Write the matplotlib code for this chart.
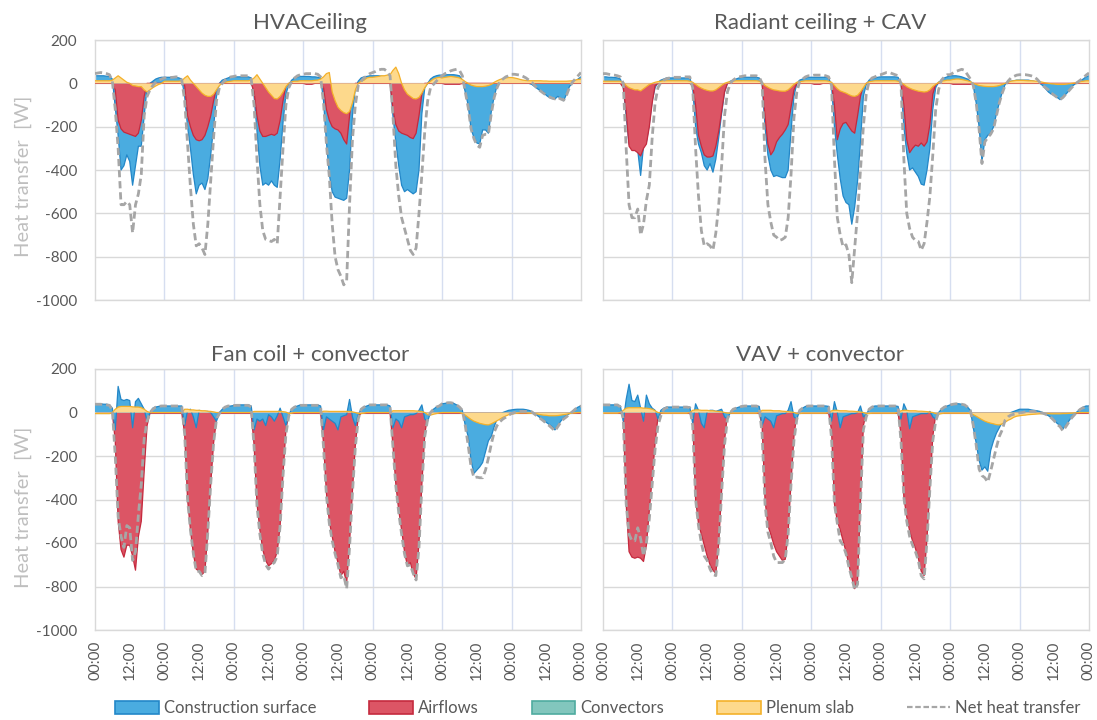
import numpy as np
import matplotlib
matplotlib.use("Agg")
import matplotlib.pyplot as plt
from matplotlib.patches import Patch
from matplotlib.lines import Line2D

plt.rcParams["font.family"] = ["Lato", "DejaVu Sans"]
plt.rcParams["axes.unicode_minus"] = False

HOURS = np.arange(169)
TICK_HOURS = np.arange(0, 169, 12)
TICK_LABELS = ["00:00", "12:00"] * 7 + ["00:00"]

# ---- HVACeiling ------------------------------------------------------------
HV_SURF = [
    35, 35, 35, 35, 33, 32, 20, -110, -240, -400, -380, -330, -360, -470, -380, -290, -290, -150, -20, 0, 10, 20, 25, 28,
    28, 28, 28, 28, 28, 25, 20, -60, -200, -300, -420, -510, -470, -460, -490, -440, -330, -200, -60, 0, 15, 20, 25, 30,
    30, 30, 30, 30, 30, 30, 25, -60, -220, -380, -470, -460, -470, -450, -470, -480, -350, -180, -50, -5, 15, 25, 30, 32,
    32, 32, 32, 30, 30, 28, 25, -80, -270, -420, -500, -525, -530, -535, -540, -530, -400, -150, -20, 10, 25, 30, 32, 35,
    35, 35, 35, 33, 32, 30, 20, -150, -270, -380, -470, -500, -490, -500, -510, -500, -400, -140, -20, 0, 20, 30, 35, 38,
    38, 40, 40, 40, 40, 38, 35, 15, -40, -100, -210, -250, -275, -280, -215, -215, -230, -130, -60, -10, 0, 8, 12, 15,
    20, 20, 18, 15, 10, 5, 0, -5, -15, -25, -35, -40, -55, -65, -70, -72, -60, -70, -80, -50, -15, 0, 10, 20,
    30]
HV_AIR = [
    0, 0, 0, 0, 0, 0, 0, -30, -170, -210, -225, -230, -235, -240, -245, -230, -170, -60, 0, 0, 0, 0, 0, 0,
    0, 0, 0, 0, 0, 0, 0, -10, -150, -200, -240, -260, -265, -260, -240, -200, -150, -80, -20, 0, 0, 0, 0, 0,
    0, 0, 0, 0, 0, 0, 0, -40, -150, -220, -245, -245, -240, -235, -240, -230, -170, -80, -10, 0, 0, 0, 0, 0,
    0, -4, -4, -4, 0, 0, 0, -20, -120, -170, -200, -210, -215, -230, -260, -280, -150, -40, 0, 0, 0, 0, 0, 0,
    0, 0, 0, 0, 0, 0, 0, -120, -190, -220, -230, -235, -240, -250, -255, -230, -150, -50, 0, 0, 0, 0, 0, 0,
    0, -4, -4, -4, -4, -4, -4, 0, 0, 0, 0, 0, 0, 0, 0, 0, 0, 0, 0, 0, 0, 0, 0, 0,
    0, 0, 0, 0, 0, 0, 0, 0, 0, 0, 0, 0, 0, 0, 0, 0, 0, 0, 0, 0, 0, 0, 0, 0,
    0]
HV_PLEN = [
    12, 12, 12, 12, 12, 12, 15, 25, 35, 25, 15, 5, 0, -10, -12, -15, -15, -30, -40, -30, -20, -12, -5, 0,
    10, 10, 10, 10, 10, 10, 12, 25, 35, 15, 0, -15, -30, -45, -55, -60, -60, -50, -30, -10, 0, 5, 8, 10,
    12, 12, 12, 12, 12, 12, 15, 25, 40, 20, 0, -20, -40, -55, -70, -72, -60, -40, -15, 0, 8, 10, 10, 12,
    12, 12, 12, 12, 14, 15, 20, 30, 45, 50, -40, -80, -110, -125, -135, -140, -130, -90, -30, 0, 10, 15, 25, 28,
    28, 30, 32, 35, 35, 38, 40, 60, 75, 45, 0, -30, -50, -60, -70, -72, -65, -45, -20, 0, 10, 20, 25, 28,
    25, 28, 30, 32, 30, 28, 25, 18, 8, 0, -8, -12, -15, -15, -15, -13, -10, -5, 5, 12, 18, 22, 25, 27,
    27, 25, 22, 18, 15, 13, 12, 12, 12, 12, 12, 11, 11, 10, 10, 10, 10, 10, 10, 10, 11, 12, 15, 18,
    20]
HV_NET = [
    45, 48, 50, 48, 45, 40, 10, -120, -300, -560, -560, -545, -560, -690, -560, -510, -420, -150, -60, -30, -10, 5, 15, 20,
    25, 25, 27, 28, 30, 30, 15, -80, -280, -480, -650, -750, -740, -760, -790, -650, -450, -250, -80, -20, 0, 15, 25, 30,
    32, 35, 35, 35, 35, 35, 20, -100, -350, -560, -680, -720, -725, -730, -720, -740, -520, -300, -100, -20, 10, 25, 35, 40,
    42, 45, 45, 45, 45, 42, 30, -90, -280, -430, -650, -800, -860, -890, -930, -910, -560, -260, -100, -10, 10, 25, 35, 45,
    50, 55, 62, 65, 65, 55, 35, -150, -380, -520, -620, -670, -720, -770, -790, -760, -600, -420, -220, -80, -20, -5, 10, 25,
    35, 45, 50, 58, 62, 65, 60, 35, -40, -110, -210, -255, -285, -295, -240, -235, -235, -140, -65, -20, 10, 20, 30, 35,
    42, 42, 40, 38, 32, 25, 15, 5, -10, -25, -35, -45, -55, -62, -68, -72, -65, -72, -78, -55, -20, 5, 20, 35,
    50]

# ---- Radiant ceiling + CAV -------------------------------------------------
RC_SURF = [
    30, 30, 28, 28, 27, 25, 20, -20, -150, -280, -300, -300, -310, -425, -290, -270, -190, -80, -20, 5, 15, 20, 25, 25,
    25, 25, 25, 25, 25, 25, 25, -20, -200, -280, -320, -380, -400, -370, -410, -350, -250, -140, -40, 0, 10, 15, 20, 25,
    28, 28, 28, 28, 28, 28, 25, 0, -200, -330, -400, -430, -425, -430, -435, -435, -400, -220, -60, 0, 15, 20, 25, 28,
    28, 28, 28, 28, 28, 28, 25, -10, -200, -330, -440, -520, -550, -560, -650, -570, -450, -270, -60, -5, 15, 22, 25, 28,
    30, 30, 30, 30, 30, 30, 28, 0, -200, -320, -400, -390, -410, -430, -465, -470, -400, -300, -120, -20, 5, 15, 25, 30,
    35, 35, 35, 33, 30, 25, 20, 10, -10, -90, -200, -360, -260, -240, -230, -200, -140, -90, -40, -5, 5, 10, 12, 15,
    15, 15, 15, 15, 12, 10, 5, 0, -10, -25, -40, -50, -55, -65, -75, -65, -50, -35, -15, -5, 5, 12, 20, 30,
    35]
RC_AIR = [
    0, 0, 0, 0, 0, 0, 0, -20, -130, -290, -310, -310, -320, -335, -300, -280, -200, -90, -10, 0, 0, 0, 0, 0,
    0, 0, 0, 0, 0, 0, 0, -10, -100, -240, -290, -330, -340, -340, -335, -290, -220, -130, -40, 0, 0, 0, 0, 0,
    0, 0, 0, 0, 0, 0, 0, 0, -150, -280, -330, -310, -270, -250, -235, -215, -190, -110, -30, 0, 0, 0, 0, 0,
    0, -4, -4, -4, 0, 0, 0, 0, -100, -260, -210, -185, -180, -200, -220, -230, -150, -60, -10, 0, 0, 0, 0, 0,
    0, 0, 0, 0, 0, 0, 0, 0, -100, -260, -320, -300, -285, -290, -275, -290, -270, -190, -50, -5, 0, 0, 0, 0,
    0, -4, -4, -4, -4, -4, -4, -4, 0, 0, 0, 0, 0, 0, 0, 0, 0, 0, 0, 0, 0, 0, 0, 0,
    0, 0, 0, 0, 0, 0, 0, 0, 0, 0, 0, 0, 0, 0, 0, 0, 0, 0, 0, 0, 0, 0, 0, 0,
    0]
RC_PLEN = [
    10, 10, 10, 10, 10, 10, 10, 5, -10, -20, -25, -30, -30, -35, -25, -15, -5, 0, 5, 8, 10, 12, 12, 12,
    12, 12, 12, 12, 12, 12, 10, 5, -5, -15, -22, -28, -32, -35, -35, -30, -20, -10, 0, 5, 8, 10, 12, 12,
    12, 12, 12, 12, 12, 12, 10, 5, -10, -18, -25, -30, -32, -35, -36, -36, -30, -18, -5, 5, 8, 10, 12, 12,
    12, 12, 12, 12, 12, 12, 10, 5, -10, -25, -35, -40, -45, -52, -58, -60, -55, -40, -20, 0, 8, 10, 12, 12,
    12, 12, 12, 12, 12, 12, 10, 5, -5, -15, -22, -28, -32, -36, -38, -40, -38, -30, -15, -5, 5, 10, 12, 15,
    15, 18, 20, 20, 18, 15, 12, 8, 0, -5, -10, -12, -14, -15, -15, -15, -13, -10, -5, 0, 5, 10, 12, 14,
    14, 14, 13, 12, 12, 11, 10, 8, 5, 2, 0, -2, -3, -5, -5, -5, -4, -2, 0, 2, 5, 8, 10, 12,
    12]
RC_NET = [
    45, 45, 42, 40, 38, 35, 30, 0, -300, -560, -620, -620, -580, -700, -650, -540, -470, -250, -90, -20, 5, 15, 22, 25,
    28, 28, 28, 28, 30, 30, 30, -20, -300, -520, -680, -750, -740, -750, -770, -690, -560, -380, -150, -40, 0, 15, 25, 30,
    32, 35, 35, 35, 35, 35, 30, 0, -350, -560, -640, -700, -710, -725, -720, -710, -620, -420, -160, -40, 10, 20, 30, 35,
    35, 38, 38, 38, 38, 35, 30, -10, -350, -620, -700, -755, -745, -790, -920, -760, -600, -400, -200, -50, 10, 25, 30, 38,
    40, 45, 50, 50, 45, 40, 35, 0, -350, -600, -670, -710, -725, -730, -770, -740, -640, -520, -330, -120, -30, 15, 30, 40,
    40, 48, 55, 60, 65, 60, 40, 20, -10, -90, -210, -370, -270, -250, -235, -210, -150, -90, -45, -10, 10, 25, 32, 38,
    40, 40, 40, 38, 35, 30, 20, 5, -10, -20, -30, -45, -55, -65, -75, -65, -50, -35, -20, -5, 5, 15, 25, 38,
    48]

# ---- Fan coil + convector --------------------------------------------------
FC_SURF = [
    40, 40, 40, 38, 38, 35, 20, -80, 120, 60, 55, 60, 55, -70, 50, 65, 40, 15, -40, 0, 20, 25, 28, 30,
    30, 30, 30, 30, 30, 30, 30, -60, 10, 15, -20, -70, 10, 5, 5, 5, 0, -20, -40, 0, 15, 25, 28, 30,
    32, 35, 35, 35, 35, 35, 30, -80, -30, -40, -30, -60, -10, -20, -40, -15, 20, -20, -60, -10, 15, 25, 30, 35,
    35, 35, 35, 35, 35, 35, 30, -80, -20, -30, -40, -50, -80, -20, -15, -10, 60, -20, -60, -10, 15, 25, 30, 35,
    35, 35, 35, 35, 35, 35, 30, -70, -30, -40, -70, -20, -15, -10, -10, -5, 10, 35, -30, -40, 0, 15, 25, 30,
    40, 42, 45, 45, 42, 35, 25, 10, -60, -110, -220, -280, -265, -250, -230, -180, -130, -110, -65, -30, -10, 0, 5, 10,
    12, 14, 15, 15, 15, 13, 10, 5, -5, -15, -25, -35, -45, -55, -65, -80, -60, -40, -25, -15, -5, 5, 15, 25,
    30]
FC_AIR = [
    -3, -3, -3, -3, -3, -3, -3, -130, -500, -630, -665, -610, -610, -660, -725, -570, -500, -270, -60, -3, -3, -3, -3, -3,
    -3, -3, -3, -3, -3, -3, -3, -100, -400, -540, -650, -720, -730, -745, -730, -550, -330, -140, -30, -3, -3, -3, -3, -3,
    -3, -3, -3, -3, -3, -3, -3, -150, -420, -540, -630, -680, -705, -695, -680, -640, -520, -280, -80, -5, -3, -3, -3, -3,
    -3, -3, -3, -3, -3, -3, -3, -140, -370, -500, -570, -640, -690, -750, -730, -785, -600, -360, -150, -20, -3, -3, -3, -3,
    -3, -3, -3, -3, -3, -3, -3, -150, -330, -450, -540, -640, -705, -690, -740, -765, -600, -330, -100, -15, -3, -3, -3, -3,
    -3, -3, -3, -3, -3, -3, -3, -3, -3, -3, -3, -3, -3, -3, -3, -3, -3, -3, -3, -3, -3, -3, -3, -3,
    -3, -3, -3, -3, -3, -3, -3, -3, -3, -3, -3, -3, -3, -3, -3, -3, -3, -3, -3, -3, -3, -3, -3, -3,
    -3]
FC_PLEN = [
    -5, -5, -5, -5, -5, -5, 0, 15, 25, 28, 28, 28, 28, 26, 25, 25, 22, 15, 5, 0, 0, 0, 0, 0,
    0, 0, 0, 0, 0, 0, 0, 15, 15, 12, 12, 10, 10, 8, 8, 6, 5, 3, 0, 0, 0, 0, 0, 0,
    0, 0, 0, 0, 0, 0, 0, 5, 5, 5, 5, 5, 5, 5, 5, 5, 5, 4, 2, -5, -3, 0, 0, 0,
    0, 0, 0, 0, 0, 0, 0, 6, 6, 5, 5, 5, 5, 5, 5, 5, 4, 3, 0, -5, -5, -3, 0, 0,
    0, 0, 0, 0, 0, 0, 0, 8, 8, 8, 8, 8, 8, 8, 8, 7, 6, 4, 0, -10, -12, -8, -5, -2,
    0, 0, 0, 0, 0, 0, 0, -5, -12, -22, -32, -40, -45, -50, -53, -56, -57, -52, -45, -38, -30, -22, -16, -10,
    -8, -5, -3, -2, -2, -2, -3, -4, -5, -7, -10, -12, -13, -15, -15, -15, -14, -12, -10, -8, -5, -3, -2, 0,
    0]
FC_NET = [
    38, 38, 38, 36, 35, 33, 10, -200, -480, -570, -620, -520, -530, -680, -640, -470, -330, -120, -40, 0, 15, 25, 28, 30,
    30, 30, 30, 30, 30, 30, 28, -100, -400, -540, -650, -730, -730, -750, -740, -550, -330, -140, -30, -5, 15, 25, 30, 30,
    32, 33, 33, 33, 33, 33, 25, -160, -430, -560, -650, -700, -720, -700, -690, -660, -520, -290, -100, -15, 15, 25, 30, 33,
    33, 33, 33, 33, 33, 33, 28, -160, -380, -510, -590, -650, -700, -760, -750, -810, -620, -370, -160, -30, 15, 25, 30, 35,
    35, 35, 35, 35, 35, 35, 28, -160, -340, -460, -560, -650, -705, -700, -740, -770, -620, -340, -110, -30, 0, 15, 25, 30,
    40, 42, 45, 45, 42, 35, 25, 10, -60, -150, -250, -300, -297, -300, -300, -265, -210, -145, -90, -60, -42, -30, -22, -12,
    -5, 0, 3, 5, 5, 5, 5, 3, -8, -18, -28, -38, -50, -60, -72, -85, -65, -45, -30, -20, -8, 3, 15, 25,
    30]

# ---- VAV + convector -------------------------------------------------------
VV_SURF = [
    35, 35, 35, 35, 35, 35, 30, -40, 60, 130, 55, 50, 80, 20, -40, 80, 40, 20, 10, -30, 10, 20, 25, 25,
    25, 25, 25, 25, 25, 25, 25, -50, 40, 10, -50, -70, 5, 10, 10, 5, 10, 15, -20, -30, 0, 15, 20, 25,
    28, 30, 30, 30, 30, 30, 28, -60, -20, -30, -40, -70, -15, -10, -5, -5, 10, 50, -20, -30, 10, 20, 28, 30,
    30, 30, 30, 30, 30, 30, 28, -40, 50, 0, -70, -20, -15, -10, -5, -5, 0, 30, -20, -10, 15, 25, 30, 30,
    30, 30, 30, 30, 30, 30, 28, -30, 40, 10, -75, -20, -15, -10, -5, -5, -5, 5, -20, -30, 0, 15, 25, 30,
    35, 38, 40, 40, 38, 35, 25, 10, -70, -140, -220, -265, -250, -270, -175, -130, -95, -70, -45, -25, -10, 0, 5, 10,
    15, 15, 15, 15, 12, 10, 8, 5, 0, -8, -15, -25, -35, -50, -60, -75, -60, -40, -20, -8, 5, 15, 25, 30,
    30]
VV_AIR = [
    -3, -3, -3, -3, -3, -3, -3, -10, -420, -640, -665, -670, -665, -670, -685, -610, -450, -300, -140, -20, -3, -3, -3, -3,
    -3, -3, -3, -3, -3, -3, -3, -30, -400, -510, -560, -610, -660, -700, -725, -740, -600, -360, -130, -10, -3, -3, -3, -3,
    -3, -3, -3, -3, -3, -3, -3, -60, -400, -520, -560, -605, -640, -660, -680, -675, -550, -320, -110, -5, -3, -3, -3, -3,
    -3, -3, -3, -3, -3, -3, -3, -80, -420, -500, -540, -590, -640, -700, -760, -810, -770, -420, -60, -5, -3, -3, -3, -3,
    -3, -3, -3, -3, -3, -3, -3, -100, -390, -480, -545, -590, -625, -670, -730, -750, -580, -340, -110, -10, -3, -3, -3, -3,
    -3, -3, -3, -3, -3, -3, -3, -3, -3, -3, -3, -3, -3, -3, -3, -3, -3, -3, -3, -3, -3, -3, -3, -3,
    -3, -3, -3, -3, -3, -3, -3, -3, -3, -3, -3, -3, -3, -3, -3, -3, -3, -3, -3, -3, -3, -3, -3, -3,
    -3]
VV_PLEN = [
    -3, -3, -3, -3, -3, -3, 0, 10, 20, 22, 22, 22, 22, 22, 20, 20, 18, 15, 8, 0, -2, -3, -3, -3,
    -3, -3, -3, -3, -3, -3, 0, 10, 12, 12, 10, 10, 10, 8, 8, 6, 5, 3, 0, -3, -3, -3, -3, -3,
    -3, -3, -3, -3, -3, -3, 0, 10, 10, 10, 10, 8, 8, 8, 6, 5, 4, 2, 0, -5, -5, -3, -3, -3,
    -3, -3, -3, -3, -3, -3, 0, 8, 10, 10, 8, 8, 8, 6, 6, 5, 4, 2, 0, -5, -5, -3, -3, -3,
    -3, -3, -3, -3, -3, -3, 0, 8, 10, 10, 8, 8, 8, 6, 6, 5, 4, 2, 0, -5, -8, -5, -3, -3,
    -3, -3, -3, -3, -3, -3, -3, -5, -10, -17, -25, -33, -40, -45, -49, -52, -56, -57, -52, -45, -36, -30, -22, -17,
    -15, -13, -12, -10, -9, -8, -7, -6, -5, -5, -5, -6, -6, -6, -6, -5, -5, -4, -3, -2, -1, 0, 0, 0,
    0]
VV_NET = [
    35, 35, 35, 35, 35, 35, 25, -30, -420, -560, -590, -590, -530, -580, -660, -600, -490, -330, -170, -60, -15, 15, 22, 25,
    25, 25, 25, 25, 25, 25, 22, -60, -400, -520, -600, -660, -680, -720, -745, -750, -610, -370, -150, -30, 0, 15, 20, 25,
    28, 30, 30, 30, 30, 30, 25, -100, -420, -550, -600, -660, -690, -690, -690, -675, -560, -330, -130, -30, 10, 20, 28, 30,
    30, 30, 30, 30, 30, 30, 25, -120, -420, -510, -590, -610, -650, -710, -760, -815, -790, -420, -80, -20, 15, 25, 30, 30,
    30, 30, 30, 30, 30, 30, 25, -130, -390, -500, -570, -610, -640, -680, -750, -765, -590, -350, -130, -40, 0, 15, 25, 30,
    35, 38, 40, 40, 38, 35, 25, 10, -60, -150, -260, -290, -300, -320, -270, -215, -160, -110, -80, -35, -20, -12, -8, -5,
    -2, 0, 3, 5, 5, 5, 3, 0, -3, -8, -15, -25, -38, -55, -65, -85, -65, -45, -25, -10, 3, 15, 22, 25,
    25]

for arr in (HV_SURF, HV_AIR, HV_PLEN, HV_NET, RC_SURF, RC_AIR, RC_PLEN, RC_NET,
            FC_SURF, FC_AIR, FC_PLEN, FC_NET, VV_SURF, VV_AIR, VV_PLEN, VV_NET):
    assert len(arr) == len(HOURS), len(arr)

# colours
SURF_FILL, SURF_EDGE = "#4aace0", "#2387c8"
AIR_FILL, AIR_EDGE = "#dc5565", "#c52a3e"
CONV_FILL, CONV_EDGE = "#82c6bd", "#4fab9f"
PLEN_FILL, PLEN_EDGE = "#fdd98c", "#f4b12a"
NET_COLOR = "#a6a6a6"
TEXT = "#595959"
GRID_H = "#d9d9d9"
GRID_V = "#d6def0"

STYLE = {
    "surf": (SURF_FILL, SURF_EDGE),
    "air": (AIR_FILL, AIR_EDGE),
    "plen": (PLEN_FILL, PLEN_EDGE),
}

# title, series, net, layer order, axes rect [l, b, w, h], title position
PANELS = [
    ("HVACeiling", dict(surf=HV_SURF, air=HV_AIR, plen=HV_PLEN), HV_NET,
     ("surf", "air", "plen"), [0.0866, 0.5833, 0.4430, 0.3611], 0.442, 1.065),
    ("Radiant ceiling + CAV", dict(surf=RC_SURF, air=RC_AIR, plen=RC_PLEN), RC_NET,
     ("surf", "air", "plen"), [0.5497, 0.5833, 0.4430, 0.3611], 0.447, 1.065),
    ("Fan coil + convector", dict(surf=FC_SURF, air=FC_AIR, plen=FC_PLEN), FC_NET,
     ("air", "surf", "plen"), [0.0866, 0.1250, 0.4430, 0.3625], 0.442, 1.054),
    ("VAV + convector", dict(surf=VV_SURF, air=VV_AIR, plen=VV_PLEN), VV_NET,
     ("air", "surf", "plen"), [0.5497, 0.1250, 0.4430, 0.3625], 0.447, 1.054),
]

fig = plt.figure(figsize=(10.97, 7.2), dpi=100)

for i, (title, series, net, order, rect, tx, ty) in enumerate(PANELS):
    ax = fig.add_axes(rect)
    z = 2
    for key in order:
        face, edge = STYLE[key]
        vals = np.asarray(series[key], dtype=float)
        ax.fill_between(HOURS, 0, vals, facecolor=face, edgecolor="none", lw=0, zorder=z)
        ax.plot(HOURS, vals, color=edge, lw=0.9, zorder=z + 0.5)
        z += 1
    ax.plot(HOURS, net, color=NET_COLOR, lw=2.0, dashes=(2.6, 1.4), zorder=z + 1)

    ax.set_xlim(0, 168)
    ax.set_ylim(-1000, 200)
    ax.set_yticks(np.arange(-1000, 201, 200))
    ax.set_xticks(TICK_HOURS)
    ax.set_xticklabels(TICK_LABELS, rotation=90)
    ax.grid(axis="y", color=GRID_H, lw=1.0, zorder=0)
    for d in range(24, 168, 24):
        ax.axvline(d, color=GRID_V, lw=1.0, zorder=0.5)
    for sp in ax.spines.values():
        sp.set_color(GRID_H)
        sp.set_linewidth(1.0)
    ax.tick_params(length=0, colors=TEXT, labelsize=11)
    ax.tick_params(axis="y", pad=13)
    ax.tick_params(axis="x", pad=8)
    if i < 2:
        ax.tick_params(labelbottom=False)
    if i % 2 == 1:
        ax.tick_params(labelleft=False)
    ax.text(tx, ty, title, transform=ax.transAxes, ha="center", va="center",
            fontsize=16, color=TEXT)

for yc in (176, 507):
    fig.text(23 / 1097, 1 - yc / 720, "Heat transfer  [W]", rotation=90,
             ha="center", va="center", fontsize=14.5, color="#bfbfbf")

handles = [
    Patch(facecolor=SURF_FILL, edgecolor=SURF_EDGE, lw=1.2, label="Construction surface"),
    Patch(facecolor=AIR_FILL, edgecolor=AIR_EDGE, lw=1.2, label="Airflows"),
    Patch(facecolor=CONV_FILL, edgecolor=CONV_EDGE, lw=1.2, label="Convectors"),
    Patch(facecolor=PLEN_FILL, edgecolor=PLEN_EDGE, lw=1.2, label="Plenum slab"),
    Line2D([], [], color=NET_COLOR, lw=1.6, dashes=(2.5, 1.2), label="Net heat transfer"),
]
leg = fig.legend(handles=handles, loc="center", bbox_to_anchor=(0.545, 1 - 708 / 720),
                 ncol=5, frameon=False, fontsize=12, handlelength=2.6,
                 handleheight=0.85, handletextpad=0.3, columnspacing=3.2)
for t in leg.get_texts():
    t.set_color(TEXT)

fig.savefig("out.png", dpi=100, facecolor="white")
